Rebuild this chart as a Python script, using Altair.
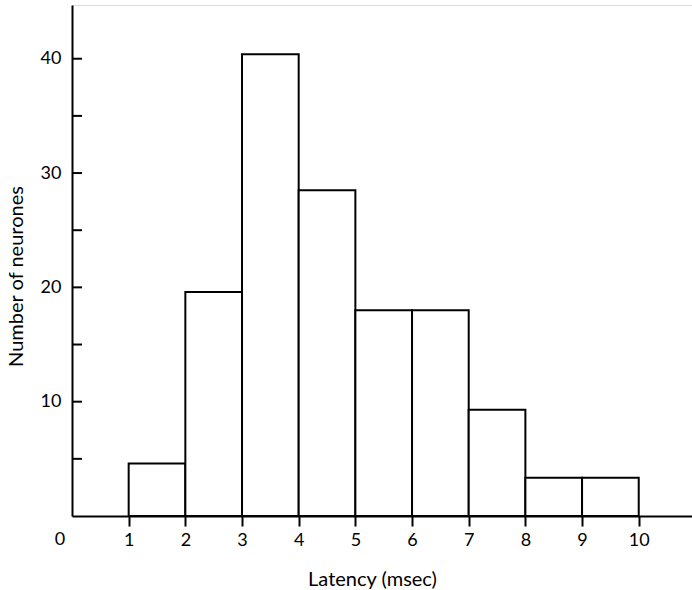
import altair as alt
import pandas as pd

# Histogram bins (latency, msec) and counts (number of neurones)
bin_start = [1, 2, 3, 4, 5, 6, 7, 8, 9]
bin_end = [2, 3, 4, 5, 6, 7, 8, 9, 10]
counts = [4.6, 19.6, 40.4, 28.5, 18.0, 18.0, 9.3, 3.35, 3.35]

x_tick_values = [1, 2, 3, 4, 5, 6, 7, 8, 9, 10]
y_label_values = [10, 20, 30, 40]
y_tick_values = [5, 10, 15, 20, 25, 30, 35, 40]
corner_label = ["0"]

FONT = "Lato"
W, H = 620, 511

bars_df = pd.DataFrame({"start": bin_start, "end": bin_end, "count": counts})
yticks_df = pd.DataFrame({"v": y_tick_values})
corner_df = pd.DataFrame({"x": [0], "label": corner_label})

xscale = alt.Scale(domain=[0, 10.94], nice=False, zero=False)
yscale = alt.Scale(domain=[0, 44.7], nice=False)

bars = alt.Chart(bars_df).mark_rect(
    fill="white", stroke="black", strokeWidth=2
).encode(
    x=alt.X("start:Q", scale=xscale,
            axis=alt.Axis(values=x_tick_values, format="d", title="Latency (msec)", grid=False,
                          domainColor="black", domainWidth=2, tickColor="black",
                          tickWidth=2, tickSize=10, labelPadding=5,
                          labelFont=FONT, labelFontSize=18, labelColor="black",
                          titleFont=FONT, titleFontSize=20, titleFontWeight="normal",
                          titleColor="black", titleY=53, titleX=300)),
    x2="end:Q",
    y=alt.Y("count:Q", scale=yscale,
            axis=alt.Axis(values=y_label_values, format="d", title="Number of neurones", grid=False,
                          domainColor="black", domainWidth=2, tickSize=0,
                          labelPadding=11, labelFont=FONT, labelFontSize=18,
                          labelColor="black", titleFont=FONT, titleFontSize=20,
                          titleFontWeight="normal", titleColor="black",
                          titleBaseline="middle", titleAlign="center",
                          titleX=-56, titleY=271)),
    y2=alt.datum(0),
)

yticks = alt.Chart(yticks_df).mark_rule(color="black", strokeWidth=2).encode(
    y=alt.Y("v:Q", scale=yscale),
    x=alt.value(0),
    x2=alt.value(10),
)

corner = alt.Chart(corner_df).mark_text(
    font=FONT, fontSize=18, color="black", baseline="top", align="center", dx=-12
).encode(
    x=alt.X("x:Q", scale=xscale),
    y=alt.value(H + 15),
    text="label:N",
)

chart = alt.layer(bars, yticks, corner).properties(
    width=W, height=H,
    autosize=alt.AutoSizeParams(type="none"),
    padding={"left": 72, "top": 5, "right": 0, "bottom": 74},
).configure_view(stroke=None).configure(background="white")

chart.save("out.html", embed_options={"renderer": "svg", "actions": False})
